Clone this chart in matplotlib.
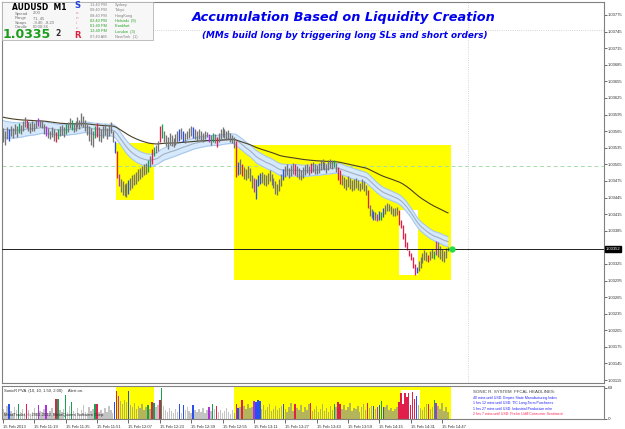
import numpy as np
import matplotlib.pyplot as plt
from matplotlib.patches import Rectangle
import matplotlib.transforms as mtransforms

# AUDUSD M1, 15 Feb 2013 from 11:03 -- highs / lows in points above 1.03000
hi_pts = [570, 566, 572, 568, 575, 571, 578, 574, 580, 577,
          584, 590, 586, 582, 579, 583, 580, 586, 589, 585,
          584, 578, 575, 570, 566, 572, 568, 563, 568, 574,
          576, 572, 578, 582, 588, 585, 580, 584, 590, 586,
          597, 592, 585, 578, 574, 570, 566, 575, 580, 572,
          568, 574, 578, 571, 576, 582, 565, 548, 530, 488,
          478, 474, 470, 472, 476, 480, 485, 488, 492, 496,
          498, 502, 505, 508, 512, 520, 532, 536, 540, 548,
          575, 578, 565, 558, 555, 562, 558, 552, 560, 566,
          568, 570, 565, 562, 566, 570, 574, 572, 568, 565,
          568, 566, 562, 565, 563, 560, 558, 562, 560, 555,
          562, 568, 572, 569, 565, 567, 562, 558, 555, 548,
          510, 514, 506, 500, 496, 502, 498, 486, 480, 478,
          486, 490, 492, 488, 485, 490, 494, 488, 480, 474,
          470, 478, 488, 496, 502, 506, 498, 504, 508, 505,
          502, 498, 494, 500, 504, 506, 502, 508, 510, 506,
          504, 508, 512, 514, 510, 506, 512, 515, 512, 513,
          508, 500, 494, 486, 482, 478, 484, 480, 476, 478,
          480, 476, 472, 478, 474, 468, 458, 432, 424, 420,
          418, 416, 420, 418, 426, 432, 436, 434, 430, 426,
          426, 428, 422, 404, 395, 380, 365, 350, 345, 338,
          325, 320, 330, 338, 344, 350, 346, 342, 348, 352,
          348, 366, 364, 358, 352, 348, 354, 356]
lo_pts = [545, 540, 550, 548, 556, 552, 560, 555, 562, 560,
          566, 572, 570, 565, 562, 566, 565, 570, 574, 572,
          571, 560, 556, 552, 550, 555, 548, 545, 550, 556,
          558, 555, 560, 564, 570, 567, 563, 566, 572, 568,
          575, 573, 566, 558, 548, 540, 536, 552, 555, 547,
          545, 552, 558, 550, 556, 562, 545, 525, 480, 466,
          455, 450, 448, 446, 452, 458, 462, 468, 470, 474,
          478, 482, 486, 488, 492, 500, 505, 520, 525, 530,
          545, 552, 545, 538, 533, 540, 538, 536, 540, 546,
          548, 550, 546, 544, 550, 553, 556, 552, 550, 548,
          550, 548, 546, 550, 554, 546, 540, 546, 544, 536,
          545, 550, 554, 552, 550, 551, 546, 544, 535, 482,
          485, 488, 484, 478, 476, 480, 474, 462, 455, 442,
          466, 470, 472, 468, 466, 470, 474, 468, 462, 452,
          450, 456, 466, 476, 482, 486, 480, 484, 488, 486,
          482, 478, 476, 480, 486, 490, 486, 490, 492, 488,
          488, 490, 494, 496, 494, 490, 494, 498, 496, 500,
          492, 476, 470, 468, 462, 458, 464, 460, 456, 458,
          462, 458, 456, 460, 456, 450, 426, 412, 408, 404,
          404, 402, 405, 404, 410, 416, 420, 420, 416, 412,
          412, 414, 395, 390, 370, 355, 350, 340, 332, 318,
          305, 308, 312, 318, 326, 332, 330, 328, 332, 336,
          334, 342, 338, 334, 330, 328, 336, 348]
volume = [20, 14, 26, 31, 16, 12, 24, 18, 31, 15,
          21, 13, 31, 18, 11, 15, 22, 12, 29, 17,
          14, 20, 28, 12, 16, 23, 13, 41, 41, 18,
          15, 21, 48, 14, 26, 35, 17, 13, 22, 11,
          19, 28, 15, 12, 24, 16, 20, 31, 31, 14,
          18, 12, 22, 15, 27, 19, 13, 35, 57, 46,
          36, 30, 39, 34, 57, 28, 24, 32, 20, 26,
          22, 30, 18, 25, 29, 21, 35, 33, 24, 28,
          39, 62, 26, 18, 14, 22, 17, 12, 20, 15,
          31, 13, 28, 18, 24, 16, 12, 29, 19, 14,
          21, 15, 23, 13, 18, 25, 16, 31, 20, 27,
          14, 19, 12, 17, 22, 15, 11, 18, 13, 30,
          22, 24, 38, 26, 20, 30, 22, 25, 36, 35,
          38, 37, 21, 28, 18, 24, 31, 16, 20, 26,
          18, 23, 27, 31, 20, 15, 25, 32, 17, 31,
          22, 18, 28, 14, 24, 19, 30, 33, 16, 21,
          26, 15, 20, 31, 17, 23, 14, 27, 19, 30,
          24, 34, 30, 21, 28, 18, 25, 32, 16, 22,
          20, 27, 15, 24, 30, 18, 33, 23, 26, 26,
          21, 25, 28, 36, 24, 24, 28, 19, 22, 16,
          20, 25, 35, 52, 30, 53, 45, 52, 28, 55,
          40, 47, 28, 22, 18, 25, 31, 30, 20, 24,
          38, 33, 26, 21, 32, 17, 24, 15]
# SonicR PVA colouring (everything else is a normal grey bar)
pva = {3: 'b', 8: 'G', 12: 'r', 18: 'm', 22: 'm', 27: 'r', 28: 'G', 32: 'G',
       35: 'G', 47: 'G', 48: 'r', 57: 'b', 58: 'r', 59: 'm', 64: 'b', 74: 'G',
       76: 'r', 77: 'G', 80: 'r', 81: 'G', 90: 'b', 92: 'b', 97: 'b', 105: 'm',
       107: 'G', 109: 'r', 119: 'r', 120: 'b', 122: 'r', 128: 'm', 129: 'b',
       130: 'b', 131: 'b', 143: 'b', 149: 'r', 157: 'r', 169: 'G', 171: 'r',
       172: 'r', 186: 'r', 189: 'b', 191: 'm', 192: 'b', 193: 'G', 194: 'b',
       202: 'r', 203: 'r', 204: 'r', 205: 'r', 206: 'r', 207: 'r', 208: 'r',
       209: 'r', 210: 'r', 211: 'b', 217: 'r', 220: 'G', 221: 'm'}
bid = 1.03352
ema_seed_hi, ema_seed_lo, ema_seed_slow = 585, 554, 591
time_labels = ['15 Feb 2013', '15 Feb 11:19', '15 Feb 11:35', '15 Feb 11:51',
               '15 Feb 12:07', '15 Feb 12:23', '15 Feb 12:39', '15 Feb 12:55',
               '15 Feb 13:11', '15 Feb 13:27', '15 Feb 13:43', '15 Feb 13:59',
               '15 Feb 14:15', '15 Feb 14:31', '15 Feb 14:47']
price_ticks = [1.03775, 1.03745, 1.03715, 1.03685, 1.03655, 1.03625, 1.03595,
               1.03565, 1.03535, 1.03505, 1.03475, 1.03445, 1.03415, 1.03385,
               1.03325, 1.03295, 1.03265, 1.03235, 1.03205, 1.03175, 1.03145,
               1.03115]
# zones drawn on the chart: (first bar, last bar, low pts, high pts)
yellow_zones = [(57.7, 77.0, 440, 544), (117.9, 228.6, 296, 540)]
white_zone = (202.0, 211.7, 305, 422)

hi = 1.03 + np.array(hi_pts) / 1e5
lo = 1.03 + np.array(lo_pts) / 1e5
mid = (hi + lo) / 2
x = np.arange(len(hi))

bar_col = {'k': '#747474', 'r': '#e0204a', 'G': '#18a050', 'b': '#2850f0', 'm': '#b030e0'}
vol_col = {'k': '#c4c4c4', 'r': '#e0204a', 'G': '#18a050', 'b': '#2850f0', 'm': '#b030e0'}
codes = [pva.get(i, 'k') for i in x]


def ema(vals, n, seed):
    k = 2.0 / (n + 1)
    e = seed
    out = []
    for v in vals:
        e = e + k * (v - e)
        out.append(e)
    return np.array(out)


dragon_hi = ema(hi, 34, 1.03 + ema_seed_hi / 1e5)
dragon_lo = ema(lo, 34, 1.03 + ema_seed_lo / 1e5)
dragon_mid = ema(mid, 34, 1.03 + (ema_seed_hi + ema_seed_lo) / 2e5)
slow = ema(mid, 89, 1.03 + ema_seed_slow / 1e5)

W, H = 625, 429
fig = plt.figure(figsize=(W / 100, H / 100), dpi=100)
fig.patch.set_facecolor('white')


def fx(px):
    return px / W


def fy(py):
    return 1 - py / H


ax = fig.add_axes([fx(2), fy(383), 602 / W, 381 / H])
ax2 = fig.add_axes([fx(2), fy(419), 602 / W, 33 / H])

for a in (ax, ax2):
    a.set_facecolor('white')
    for s in a.spines.values():
        s.set_color('#808080')
        s.set_linewidth(0.8)
    a.set_xlim(-0.5, 306.6)

# main pane
for x0, x1, p0, p1 in yellow_zones:
    ax.add_patch(Rectangle((x0, 1.03 + p0 / 1e5), x1 - x0, (p1 - p0) / 1e5,
                           facecolor='#ffff00', edgecolor='none', zorder=0))
    ax2.axvspan(x0, x1, color='#ffff00', zorder=0, lw=0)
ax.add_patch(Rectangle((white_zone[0], 1.03 + white_zone[2] / 1e5),
                       white_zone[1] - white_zone[0],
                       (white_zone[3] - white_zone[2]) / 1e5,
                       facecolor='white', edgecolor='none', zorder=0.5))
ax2.add_patch(Rectangle((white_zone[0] + 1, 0), white_zone[1] - white_zone[0], 58,
                        facecolor='white', edgecolor='none', zorder=0.5))

ax.axhline(1.03747, color='#c8c8c8', ls=':', lw=0.6, zorder=1)
ax.axhline(1.03502, color='#a8dca8', ls=(0, (4, 3)), lw=0.7, zorder=1)
ax.axvline(237.2, color='#c8c8dc', ls=':', lw=0.6, zorder=1)

ax.fill_between(x, dragon_lo, dragon_hi, color='#d6e8fb', lw=0, zorder=2)
ax.plot(x, dragon_hi, color='#a6c8ee', lw=0.8, zorder=2)
ax.plot(x, dragon_lo, color='#a6c8ee', lw=0.8, zorder=2)
ax.plot(x, dragon_mid, color='#a0b0c4', lw=0.8, zorder=2)
ax.plot(x, slow, color='#4a4028', lw=0.8, zorder=2)

ax.vlines(x, lo, hi, colors=[bar_col[c] for c in codes], lw=0.95, zorder=3)
ax.axhline(bid, color='#202020', lw=0.7, zorder=4)
ax.plot([229.1], [bid], 'o', color='#22dd44', ms=3.5, zorder=5)

ax.set_ylim(1.031097, 1.037985)
ax.set_xticks([])
ax.yaxis.tick_right()
ax.set_yticks(price_ticks)
ax.set_yticklabels(['%.5f' % t for t in price_ticks])
ax.tick_params(axis='y', length=2, width=0.5, colors='#303030', labelsize=3, pad=1)
for lab in ax.get_yticklabels():
    lab.set_family('Liberation Sans')
trans = mtransforms.blended_transform_factory(ax.transAxes, ax.transData)
ax.text(1.003, bid, '%.5f' % bid, transform=trans, fontsize=3, color='white',
        va='center', ha='left', family='Liberation Sans',
        bbox=dict(boxstyle='square,pad=0.25', fc='black', ec='black'))

# volume pane
vc = []
for i, c in enumerate(codes):
    inside = any(z[0] <= i <= z[1] for z in yellow_zones)
    if c == 'k' and inside and not (white_zone[0] <= i <= white_zone[1]):
        vc.append('#b4b45a')
    else:
        vc.append(vol_col[c])
ax2.bar(x, volume, width=0.75, color=vc, zorder=2)
ax2.set_ylim(0, 66)
ax2.yaxis.tick_right()
ax2.set_yticks([0, 63])
ax2.set_yticklabels(['0', '63'])
ax2.tick_params(axis='y', length=2, width=0.5, colors='#303030', labelsize=3, pad=1)
ax2.set_xticks(np.arange(len(time_labels)) * 16)
ax2.set_xticklabels(time_labels, ha='left', family='Liberation Sans')
ax2.tick_params(axis='x', length=3, width=0.5, colors='#303030', labelsize=3, pad=1)

# header panel
fig.add_artist(Rectangle((fx(2), fy(40)), 151 / W, 38 / H, transform=fig.transFigure,
                         facecolor='#f7f7f7', edgecolor='#b4b4b4', lw=0.6, zorder=5))
fig.text(fx(12), fy(7), 'AUDUSD  M1', fontsize=5.5, fontweight='bold', va='center', zorder=6)
rows = ['Spread', 'Range', 'Swaps', 'Candle']
row_vals = ['2.00', '71, 45', '-9.40, -8.20', '00:00:34']
for k, (r, v) in enumerate(zip(rows, row_vals)):
    yy = fy(13.5 + 4.6 * k)
    fig.text(fx(15), yy, r, fontsize=3, color='#707070', va='center', family='Liberation Sans', zorder=6)
    fig.text(fx(33), yy, v, fontsize=3, color='#707070', va='center', family='Liberation Sans', zorder=6)
fig.text(fx(3), fy(34.5), '1.0335', fontsize=9, fontweight='bold', color='#1c9c1c', va='center', zorder=6)
fig.text(fx(55), fy(33), '2', fontsize=5.5, fontweight='bold', color='#303030', va='center', zorder=6)
fig.text(fx(74), fy(6), 'S', fontsize=6, fontweight='bold', color='#2040e0', va='center', zorder=6)
for k, ch in enumerate('onic'):
    fig.text(fx(76), fy(13 + 5 * k), ch, fontsize=3, color='#e080a8', va='center', zorder=6)
fig.text(fx(74), fy(35), 'R', fontsize=6, fontweight='bold', color='#e02040', va='center', zorder=6)
times = ['11:40 PM', '09:40 PM', '08:40 PM', '02:40 PM', '01:40 PM', '12:40 PM', '07:40 AM']
cities = ['Sydney', 'Tokyo', 'HongKong', 'Helsinki  (9)', 'Frankfurt', 'London  (3)', 'NewYork  (1)']
open_now = [False, False, False, True, True, True, False]
for k, (t, c, o) in enumerate(zip(times, cities, open_now)):
    col = '#20a020' if o else '#808080'
    yy = fy(5 + 5.3 * k)
    fig.text(fx(90), yy, t, fontsize=2.8, color=col, va='center', family='Liberation Sans', zorder=6)
    fig.text(fx(115), yy, c, fontsize=2.8, color=col, va='center', family='Liberation Sans', zorder=6)

# titles
fig.text(fx(344), fy(18), 'Accumulation Based on Liquidity Creation', ha='center', va='center',
         fontsize=9.3, fontweight='bold', fontstyle='italic', color='#0000ee')
fig.text(fx(345), fy(35), '(MMs build long by triggering long SLs and short orders)',
         ha='center', va='center', fontsize=6.4, fontweight='bold', fontstyle='italic', color='#0000ee')

# indicator pane texts
fig.text(fx(4), fy(391), 'SonicR PVA  (10, 10, 1.50, 2.00)     Alert on.', fontsize=3,
         color='#303030', va='center', family='Liberation Sans', zorder=6)
fig.text(fx(4), fy(415), 'MetaTrader, \u00a9 2001-2012, MetaQuotes Software Corp.', fontsize=3,
         color='#303030', va='center', family='Liberation Sans', zorder=6)
fig.text(fx(473), fy(392), 'SONIC R. SYSTEM  FFCAL HEADLINES:', fontsize=3.2,
         color='#404040', va='center', family='Liberation Sans', zorder=6)
news = ['40 mins until USD: Empire State Manufacturing Index',
        '1 hrs 12 mins until USD: TIC Long-Term Purchases',
        '1 hrs 27 mins until USD: Industrial Production m/m',
        '2 hrs 7 mins until USD: Prelim UoM Consumer Sentiment']
news_col = ['#2020ff', '#2020ff', '#2020ff', '#ff2050']
for k, (t, c) in enumerate(zip(news, news_col)):
    fig.text(fx(473), fy(398 + 5.3 * k), t, fontsize=2.5, color=c, va='center',
             family='Liberation Sans', zorder=6)

plt.savefig('out.png', dpi=100)
